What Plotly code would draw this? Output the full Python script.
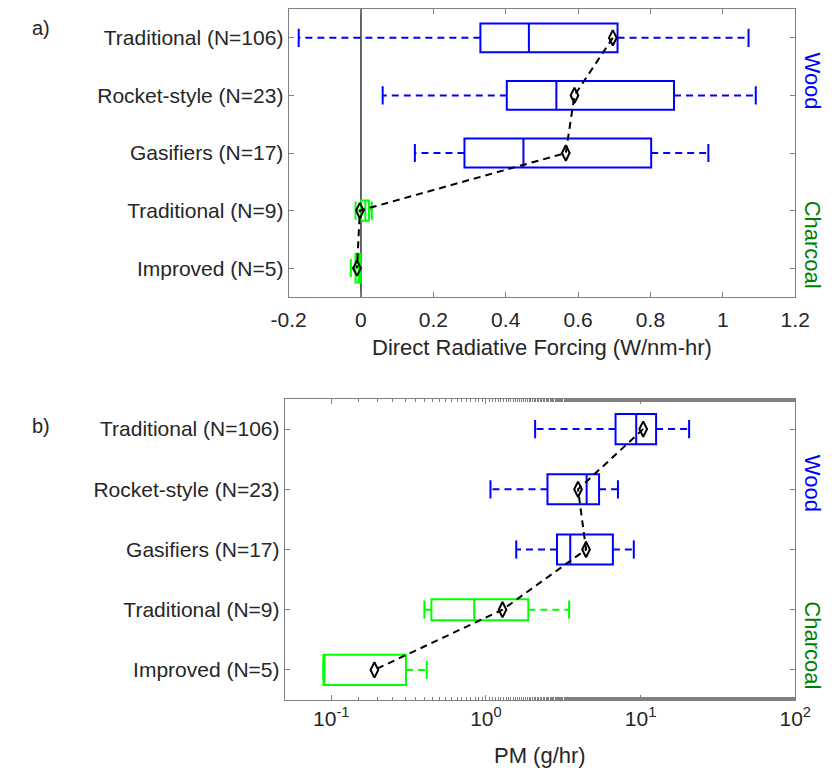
import math
import plotly.graph_objects as go

# ---------------- data ----------------
categories = ["Traditional (N=106)", "Rocket-style (N=23)", "Gasifiers (N=17)",
              "Traditional (N=9)", "Improved (N=5)"]
fuel = ["Wood", "Wood", "Wood", "Charcoal", "Charcoal"]

drf_low = [-0.172, 0.060, 0.149, -0.015, -0.028]
drf_q1 = [0.330, 0.403, 0.286, 0.000, -0.015]
drf_med = [0.464, 0.540, 0.449, 0.012, -0.006]
drf_q3 = [0.709, 0.865, 0.802, 0.022, -0.001]
drf_high = [1.071, 1.091, 0.960, 0.030, -0.001]
drf_mean = [0.696, 0.590, 0.566, -0.003, -0.011]

pm_low = [2.08, 1.07, 1.57, 0.40, 0.089]
pm_q1 = [6.89, 2.50, 2.88, 0.444, 0.089]
pm_med = [9.37, 4.48, 3.51, 0.84, 0.089]
pm_q3 = [12.6, 5.39, 6.62, 1.88, 0.304]
pm_high = [20.6, 7.14, 9.04, 3.45, 0.414]
pm_mean = [10.4, 3.94, 4.44, 1.28, 0.190]

drf_ticks = [-0.2, 0, 0.2, 0.4, 0.6, 0.8, 1, 1.2]
drf_ticktext = ["-0.2", "0", "0.2", "0.4", "0.6", "0.8", "1", "1.2"]
pm_ticks = [0.1, 1, 10, 100]
pm_ticktext = ["10<sup>-1</sup>", "10<sup>0</sup>", "10<sup>1</sup>", "10<sup>2</sup>"]

# ---------------- style ----------------
FONT = "Liberation Sans, Arial, sans-serif"
TXT = "#262626"
AX = "#7f7f7f"
fuel_color = {"Wood": "#0000FF", "Charcoal": "#00FF00"}
label_color = {"Wood": "#0000FF", "Charcoal": "#008000"}
box_w_top = [0.5, 0.5, 0.5, 0.35, 0.5]
box_w_bot = [0.5, 0.5, 0.5, 0.35, 0.5]

fig = go.Figure()
pos = list(range(1, len(categories) + 1))


def add_panel(xa, ya, low, q1, med, q3, high, mean, widths):
    # whiskers (dashed) by colour group
    for f in ["Wood", "Charcoal"]:
        xs, ys, cx, cy = [], [], [], []
        for i, p in enumerate(pos):
            if fuel[i] != f:
                continue
            xs += [q1[i], low[i], None, q3[i], high[i], None]
            ys += [p, p, None, p, p, None]
            cx += [low[i], high[i]]
            cy += [p, p]
        c = fuel_color[f]
        fig.add_trace(go.Scatter(x=xs, y=ys, mode="lines", xaxis=xa, yaxis=ya,
                                 line=dict(color=c, width=2, dash="7px,5px"),
                                 showlegend=False, hoverinfo="skip"))
        fig.add_trace(go.Scatter(x=cx, y=cy, mode="markers", xaxis=xa, yaxis=ya,
                                 marker=dict(symbol="line-ns-open", size=13, color=c,
                                             line=dict(color=c, width=2)),
                                 showlegend=False, hoverinfo="skip"))
    # boxes
    for i, p in enumerate(pos):
        c = fuel_color[fuel[i]]
        fig.add_trace(go.Box(orientation="h", y=[p], q1=[q1[i]], median=[med[i]],
                             q3=[q3[i]], lowerfence=[q1[i]], upperfence=[q3[i]],
                             width=widths[i], whiskerwidth=0, boxpoints=False,
                             fillcolor="rgba(0,0,0,0)", line=dict(color=c, width=2),
                             xaxis=xa, yaxis=ya, showlegend=False, hoverinfo="skip"))
    # means
    fig.add_trace(go.Scatter(x=mean, y=pos, mode="lines+markers", xaxis=xa, yaxis=ya,
                             line=dict(color="black", width=2, dash="7px,5px"),
                             marker=dict(symbol="diamond-tall-open", size=11,
                                         color="black", line=dict(color="black", width=2)),
                             showlegend=False, hoverinfo="skip"))


add_panel("x", "y", drf_low, drf_q1, drf_med, drf_q3, drf_high, drf_mean, box_w_top)
add_panel("x2", "y2", pm_low, pm_q1, pm_med, pm_q3, pm_high, pm_mean, box_w_bot)

# zero line in panel a
fig.add_shape(type="line", xref="x", yref="y domain", x0=0, x1=0, y0=0, y1=1,
              line=dict(color="black", width=1.2), layer="below")

axis_common = dict(showline=True, linecolor=AX, linewidth=1, mirror="allticks",
                   ticks="inside", ticklen=5, tickcolor=AX, showgrid=False,
                   zeroline=False, tickfont=dict(size=21, color=TXT, family=FONT))

fig.update_layout(
    width=840, height=770,
    margin=dict(l=0, r=0, t=0, b=0),
    paper_bgcolor="white", plot_bgcolor="white",
    font=dict(family=FONT, color=TXT),
    showlegend=False,
    boxmode="overlay",
    xaxis=dict(domain=[282 / 840, 810 / 840], anchor="y", range=[-0.2, 1.2],
               tickvals=drf_ticks, ticktext=drf_ticktext, ticklabelstandoff=4,
               **axis_common),
    yaxis=dict(domain=[1 - 297 / 770, 1 - 9 / 770], anchor="x", range=[5.5, 0.5],
               tickvals=pos, ticktext=categories, **axis_common),
    xaxis2=dict(domain=[278 / 840, 810 / 840], anchor="y2", type="log",
                range=[math.log10(0.05), 2], tickvals=pm_ticks, ticktext=pm_ticktext,
                minor=dict(ticks="inside", ticklen=3, tickcolor=AX, showgrid=False),
                **axis_common),
    yaxis2=dict(domain=[1 - 700 / 770, 1 - 399 / 770], anchor="x2", range=[5.5, 0.5],
                tickvals=pos, ticktext=categories, **axis_common),
)

ann = []
ann.append(dict(text="a)", x=12 / 840, y=1 - 28 / 770, xref="paper", yref="paper",
                xanchor="left", yanchor="middle", showarrow=False,
                font=dict(size=20, color=TXT, family=FONT)))
ann.append(dict(text="b)", x=12 / 840, y=1 - 426 / 770, xref="paper", yref="paper",
                xanchor="left", yanchor="middle", showarrow=False,
                font=dict(size=20, color=TXT, family=FONT)))
ann.append(dict(text="Direct Radiative Forcing (W/nm-hr)", x=546 / 840, y=1 - 348 / 770,
                xref="paper", yref="paper", xanchor="center", yanchor="middle",
                showarrow=False, font=dict(size=22, color=TXT, family=FONT)))
ann.append(dict(text="PM (g/hr)", x=544 / 840, y=1 - 755 / 770,
                xref="paper", yref="paper", xanchor="center", yanchor="middle",
                showarrow=False, font=dict(size=22, color=TXT, family=FONT)))
for yr, yw, yc in [("y", 1.75, 4.6), ("y2", 1.9, 4.6)]:
    ann.append(dict(text="Wood", x=828 / 840, y=yw, xref="paper", yref=yr,
                    xanchor="center", yanchor="middle", textangle=90, showarrow=False,
                    font=dict(size=22, color=label_color["Wood"], family=FONT)))
    ann.append(dict(text="Charcoal", x=828 / 840, y=yc, xref="paper", yref=yr,
                    xanchor="center", yanchor="middle", textangle=90, showarrow=False,
                    font=dict(size=22, color=label_color["Charcoal"], family=FONT)))
fig.update_layout(annotations=ann)

fig.write_html("out.html")
